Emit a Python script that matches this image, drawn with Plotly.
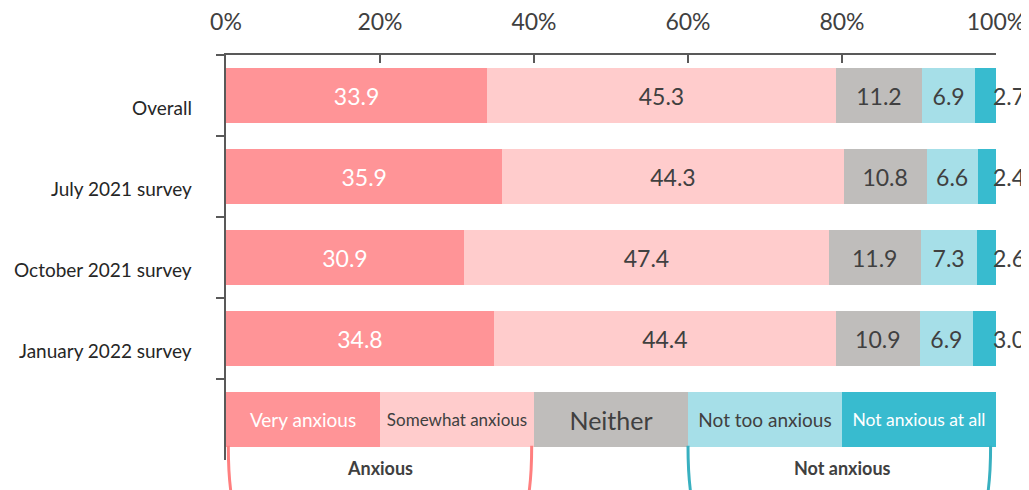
import plotly.graph_objects as go

# categories, top to bottom; the last row is the colour key drawn as a bar
categories = ["Overall", "July 2021 survey", "October 2021 survey", "January 2022 survey"]
key_row = " "

series_names = ["Very anxious", "Somewhat anxious", "Neither", "Not too anxious", "Not anxious at all"]
very_anxious = [33.9, 35.9, 30.9, 34.8]
somewhat_anxious = [45.3, 44.3, 47.4, 44.4]
neither = [11.2, 10.8, 11.9, 10.9]
not_too_anxious = [6.9, 6.6, 7.3, 6.9]
not_anxious_at_all = [2.7, 2.4, 2.6, 3.0]
key_share = 20

x_ticks = [0, 20, 40, 60, 80, 100]
x_tick_labels = ["0%", "20%", "40%", "60%", "80%", "100%"]

colors = ["#FF9497", "#FFCCCC", "#BFBDBB", "#A6DFE8", "#38BBCF"]
DARK = "#404040"
FONT = "Lato"

series = [very_anxious, somewhat_anxious, neither, not_too_anxious, not_anxious_at_all]
value_colors = ["white", DARK, DARK, DARK, DARK]
key_colors = ["white", DARK, DARK, DARK, "white"]
key_sizes = [19, 17, 25, 19, 17.5]

y_cats = categories + [key_row]

fig = go.Figure()

for i, (name, vals) in enumerate(zip(series_names, series)):
    last = i == len(series) - 1
    texts = ["" if last else "{:.1f}".format(v) for v in vals] + [name]
    fig.add_trace(go.Bar(
        name=name,
        y=y_cats,
        x=vals + [key_share],
        orientation="h",
        marker=dict(color=colors[i], line=dict(width=0)),
        text=texts,
        textposition="inside",
        insidetextanchor="middle",
        textangle=0,
        textfont=dict(
            family=FONT,
            size=[23] * len(vals) + [key_sizes[i]],
            color=[value_colors[i]] * len(vals) + [key_colors[i]],
        ),
        hoverinfo="skip",
    ))

annotations = []

# smallest segment values hang over the bar end
for cat, v in zip(categories, not_anxious_at_all):
    annotations.append(dict(
        x=100, y=cat, xref="x", yref="y",
        text="{:.1f}".format(v), showarrow=False,
        xanchor="left", xshift=-5,
        font=dict(family=FONT, size=23, color=DARK),
    ))

# row labels sit a little below the bar centre
for cat in categories:
    annotations.append(dict(
        x=0, y=cat, xref="paper", yref="y",
        text=cat, showarrow=False,
        xanchor="right", xshift=-32, yshift=-12,
        font=dict(family=FONT, size=19, color="#262626"),
    ))

annotations.append(dict(
    x=20, y=-0.02, xref="x", yref="paper", yanchor="middle",
    text="<b>Anxious</b>", showarrow=False,
    font=dict(family=FONT, size=18, color=DARK),
))
annotations.append(dict(
    x=80, y=-0.02, xref="x", yref="paper", yanchor="middle",
    text="<b>Not anxious</b>", showarrow=False,
    font=dict(family=FONT, size=18, color=DARK),
))


def bracket(x0, x1):
    top, bot = 0.035, -0.2
    r = 4.2
    return ("M {a},{t} Q {a},{b} {ar},{b} L {cr},{b} Q {c},{b} {c},{t}"
            .format(a=x0, ar=x0 + r, c=x1, cr=x1 - r, t=top, b=bot))


shapes = [
    dict(type="path", xref="x", yref="paper", path=bracket(0.3, 39.7),
         line=dict(color="#FF7F7F", width=3)),
    dict(type="path", xref="x", yref="paper", path=bracket(60.0, 99.3),
         line=dict(color="#38B0C0", width=3)),
]

# page body keeps its 8px margin, so the figure is 8px smaller each way
fig.update_layout(
    barmode="stack",
    bargap=0.333,
    width=1021,
    height=482,
    margin=dict(l=218, r=33, t=47, b=30, autoexpand=False),
    paper_bgcolor="white",
    plot_bgcolor="white",
    showlegend=False,
    font=dict(family=FONT, color=DARK),
    annotations=annotations,
    shapes=shapes,
)

fig.update_xaxes(
    side="top",
    range=[0, 100],
    tickvals=x_ticks,
    ticktext=x_tick_labels,
    ticks="inside",
    ticklen=8,
    tickcolor="#595959",
    tickwidth=1.5,
    showline=True,
    linecolor="#595959",
    linewidth=1.5,
    showgrid=False,
    zeroline=False,
    automargin=False,
    ticklabelstandoff=14,
    tickfont=dict(family=FONT, size=23, color=DARK),
)

fig.update_yaxes(
    type="category",
    categoryorder="array",
    categoryarray=y_cats,
    autorange="reversed",
    tickson="boundaries",
    ticks="outside",
    ticklen=8,
    tickcolor="#595959",
    tickwidth=1.5,
    showline=True,
    linecolor="#595959",
    linewidth=1.5,
    showgrid=False,
    automargin=False,
    showticklabels=False,
)

fig.write_html("out.html")
